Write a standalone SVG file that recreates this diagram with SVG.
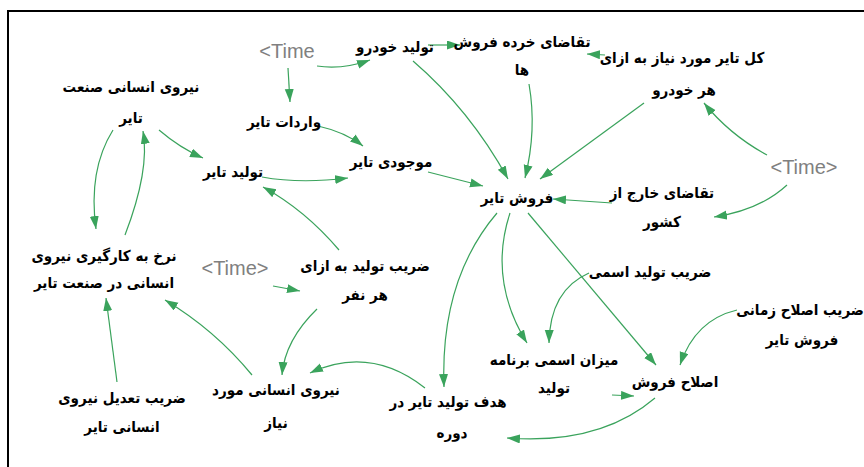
<svg xmlns="http://www.w3.org/2000/svg" width="864" height="467" viewBox="0 0 864 467">
<style>
.fa{font-family:"DejaVu Sans Condensed","DejaVu Sans",sans-serif;font-weight:bold;font-size:15px;fill:#000;text-anchor:middle;direction:rtl}
.tm{font-family:"Liberation Sans",Arial,sans-serif;font-size:20px;fill:#808080;text-anchor:middle}
.c{fill:none;stroke:#3aa35c;stroke-width:1.2;marker-end:url(#ah)}
</style>
<defs>
<marker id="ah" markerUnits="userSpaceOnUse" markerWidth="14" markerHeight="10" refX="13" refY="4.5" orient="auto">
<path d="M0,0 L13,4.5 L0,9 z" fill="#3aa35c"/>
</marker>
</defs>
<rect width="864" height="467" fill="#fff"/>
<path d="M8,467 L8,11 L864,11" fill="none" stroke="#000" stroke-width="2"/>
<g id="connectors">
<path class="c" d="M317,66 Q342,70 370,60"/>
<path class="c" d="M288,68 L290,102"/>
<path class="c" d="M428,45 L460,45"/>
<path class="c" d="M605,55 L587,54"/>
<path class="c" d="M529,84 Q537,130 525,178"/>
<path class="c" d="M413,61 Q470,110 508,179"/>
<path class="c" d="M644,103 L540,179"/>
<path class="c" d="M767,155 Q730,135 704,103"/>
<path class="c" d="M787,185 Q760,210 714,217"/>
<path class="c" d="M612,203 L553,199"/>
<path class="c" d="M428,172 L483,186"/>
<path class="c" d="M318,126 Q345,132 363,146"/>
<path class="c" d="M262,177 Q300,184 348,178"/>
<path class="c" d="M159,130 Q180,148 203,158"/>
<path class="c" d="M113,130 Q88,170 96,229"/>
<path class="c" d="M125,235 Q150,170 143,131"/>
<path class="c" d="M339,250 Q305,210 263,187"/>
<path class="c" d="M273,286 L300,291"/>
<path class="c" d="M252,375 Q215,330 165,300"/>
<path class="c" d="M117,382 L106,298"/>
<path class="c" d="M317,309 Q285,340 282,375"/>
<path class="c" d="M425,388 Q370,345 310,373"/>
<path class="c" d="M497,213 Q440,280 444,387"/>
<path class="c" d="M510,213 Q488,280 527,343"/>
<path class="c" d="M589,273 Q550,290 549,343"/>
<path class="c" d="M528,213 L656,365"/>
<path class="c" d="M737,310 Q695,320 680,365"/>
<path class="c" d="M612,395 L634,396"/>
<path class="c" d="M655,398 Q600,445 507,438"/>
</g>
<g id="time_top"><text class="tm" x="287" y="58">&lt;Time</text></g>
<g id="car_production"><text class="fa" x="395" y="52">تولید خودرو</text></g>
<g id="retail_demand"><text class="fa" x="522" y="47">تقاضای خرده فروش</text><text class="fa" x="522" y="75">ها</text></g>
<g id="tires_per_car"><text class="fa" x="682" y="63">کل تایر مورد نیاز به ازای</text><text class="fa" x="684" y="95">هر خودرو</text></g>
<g id="time_right"><text class="tm" x="804" y="174">&lt;Time&gt;</text></g>
<g id="export_demand"><text class="fa" x="662" y="198">تقاضای خارج از</text><text class="fa" x="662" y="227">کشور</text></g>
<g id="tire_sales"><text class="fa" x="517" y="203">فروش تایر</text></g>
<g id="tire_stock"><text class="fa" x="391" y="167">موجودی تایر</text></g>
<g id="tire_import"><text class="fa" x="284" y="127">واردات تایر</text></g>
<g id="tire_workforce"><text class="fa" x="131" y="92">نیروی انسانی صنعت</text><text class="fa" x="131" y="123">تایر</text></g>
<g id="tire_production"><text class="fa" x="233" y="177">تولید تایر</text></g>
<g id="hiring_rate"><text class="fa" x="104" y="261">نرخ به کارگیری نیروی</text><text class="fa" x="104" y="288">انسانی در صنعت تایر</text></g>
<g id="time_mid"><text class="tm" x="235" y="275">&lt;Time&gt;</text></g>
<g id="prod_per_person"><text class="fa" x="365" y="271">ضریب تولید به ازای</text><text class="fa" x="365" y="300">هر نفر</text></g>
<g id="nominal_prod_coef"><text class="fa" x="650" y="277">ضریب تولید اسمی</text></g>
<g id="sales_adj_time"><text class="fa" x="800" y="315">ضریب اصلاح زمانی</text><text class="fa" x="802" y="345">فروش تایر</text></g>
<g id="nominal_plan"><text class="fa" x="554" y="365">میزان اسمی برنامه</text><text class="fa" x="554" y="393">تولید</text></g>
<g id="sales_adjust"><text class="fa" x="675" y="387">اصلاح فروش</text></g>
<g id="prod_target"><text class="fa" x="448" y="407">هدف تولید تایر در</text><text class="fa" x="452" y="438">دوره</text></g>
<g id="required_workforce"><text class="fa" x="276" y="395">نیروی انسانی مورد</text><text class="fa" x="276" y="428">نیاز</text></g>
<g id="workforce_adj"><text class="fa" x="122" y="403">ضریب تعدیل نیروی</text><text class="fa" x="122" y="432">انسانی تایر</text></g>
</svg>
